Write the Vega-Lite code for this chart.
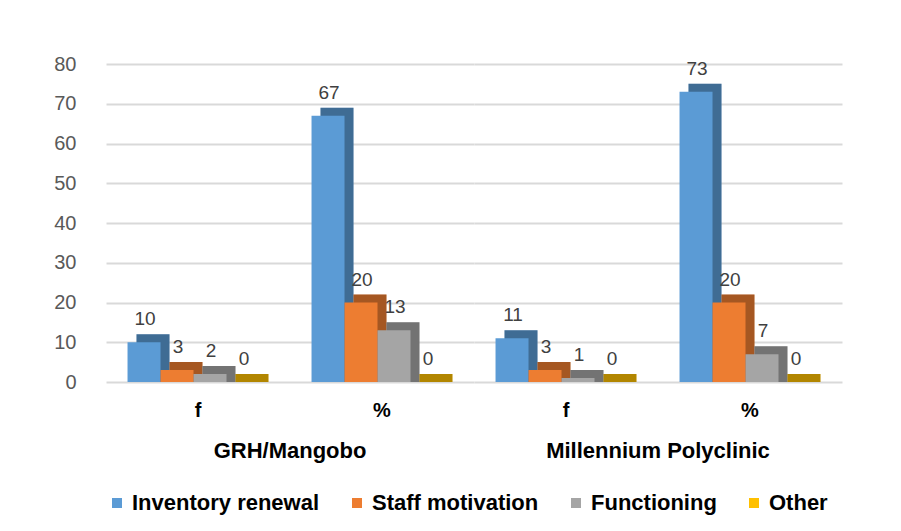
{
  "$schema": "https://vega.github.io/schema/vega-lite/v6.json",
  "padding": {"left": 53, "top": 54, "right": 10, "bottom": 5},
  "background": "white",
  "config": {"font": "Liberation Sans", "view": {"stroke": null}},
  "data": {"values": [
    {"group": "GRH/Mangobo", "sub": "f", "series": "Inventory renewal", "value": 10},
    {"group": "GRH/Mangobo", "sub": "f", "series": "Staff motivation", "value": 3},
    {"group": "GRH/Mangobo", "sub": "f", "series": "Functioning", "value": 2},
    {"group": "GRH/Mangobo", "sub": "f", "series": "Other", "value": 0},
    {"group": "GRH/Mangobo", "sub": "%", "series": "Inventory renewal", "value": 67},
    {"group": "GRH/Mangobo", "sub": "%", "series": "Staff motivation", "value": 20},
    {"group": "GRH/Mangobo", "sub": "%", "series": "Functioning", "value": 13},
    {"group": "GRH/Mangobo", "sub": "%", "series": "Other", "value": 0},
    {"group": "Millennium Polyclinic", "sub": "f", "series": "Inventory renewal", "value": 11},
    {"group": "Millennium Polyclinic", "sub": "f", "series": "Staff motivation", "value": 3},
    {"group": "Millennium Polyclinic", "sub": "f", "series": "Functioning", "value": 1},
    {"group": "Millennium Polyclinic", "sub": "f", "series": "Other", "value": 0},
    {"group": "Millennium Polyclinic", "sub": "%", "series": "Inventory renewal", "value": 73},
    {"group": "Millennium Polyclinic", "sub": "%", "series": "Staff motivation", "value": 20},
    {"group": "Millennium Polyclinic", "sub": "%", "series": "Functioning", "value": 7},
    {"group": "Millennium Polyclinic", "sub": "%", "series": "Other", "value": 0}
  ]},
  "facet": {"column": {"field": "group", "type": "nominal", "sort": ["GRH/Mangobo", "Millennium Polyclinic"],
    "header": {"labelOrient": "bottom", "title": null, "labelFontSize": 22, "labelFontWeight": "bold", "labelFont": "Liberation Sans", "labelColor": "black", "labelPadding": 21}}},
  "spacing": 0,
  "spec": {
    "width": 368,
    "height": 318,
    "encoding": {
      "x": {"field": "sub", "type": "nominal", "sort": ["f", "%"],
        "scale": {"paddingInner": 0.234, "paddingOuter": 0.117},
        "axis": {"title": null, "labelAngle": 0, "domain": false, "ticks": false, "labelFontSize": 20, "labelFontWeight": "bold", "labelColor": "black", "labelPadding": 18, "grid": false}},
      "y": {"field": "value", "type": "quantitative", "stack": null, "scale": {"domain": [0, 80]},
        "axis": {"title": null, "values": [0, 10, 20, 30, 40, 50, 60, 70, 80], "domain": false, "ticks": false, "labelFontSize": 20, "labelColor": "#595959", "labelPadding": 30, "gridColor": "#d9d9d9", "gridWidth": 2}},
      "color": {"field": "series", "type": "nominal",
        "scale": {"domain": ["Inventory renewal", "Staff motivation", "Functioning", "Other"], "range": ["#5B9BD5", "#ED7D31", "#A5A5A5", "#FFC000"]},
        "legend": {"orient": "bottom", "direction": "horizontal", "title": null, "symbolType": "square", "symbolSize": 100, "symbolOpacity": 1, "symbolStrokeWidth": 0, "labelFontSize": 22, "labelFontWeight": "bold", "labelColor": "black", "labelLimit": 400, "columnPadding": 26, "labelOffset": 4, "labelFont": "Liberation Sans", "offset": 30}}
    },
    "layer": [
      {
        "encoding": {
          "xOffset": {"field": "series", "type": "nominal", "sort": ["Inventory renewal", "Staff motivation", "Functioning", "Other"],
            "scale": {"paddingOuter": 0.136, "align": 1}}
        },
        "layer": [
          {"mark": {"type": "bar", "yOffset": -8, "y2Offset": 8}},
          {"mark": {"type": "bar", "yOffset": -8, "y2Offset": 8, "opacity": 0.3}, "encoding": {"color": {"value": "black"}}}
        ]
      },
      {
        "encoding": {
          "xOffset": {"field": "series", "type": "nominal", "sort": ["Inventory renewal", "Staff motivation", "Functioning", "Other"],
            "scale": {"paddingOuter": 0.136, "align": 0}}
        },
        "layer": [
          {"mark": {"type": "bar"}},
          {"mark": {"type": "text", "baseline": "bottom", "dy": -13, "dx": 1, "fontSize": 19},
           "encoding": {"text": {"field": "value", "type": "quantitative"}, "color": {"value": "#404040"}}}
        ]
      }
    ],
    "resolve": {"scale": {"xOffset": "independent"}}
  }
}
